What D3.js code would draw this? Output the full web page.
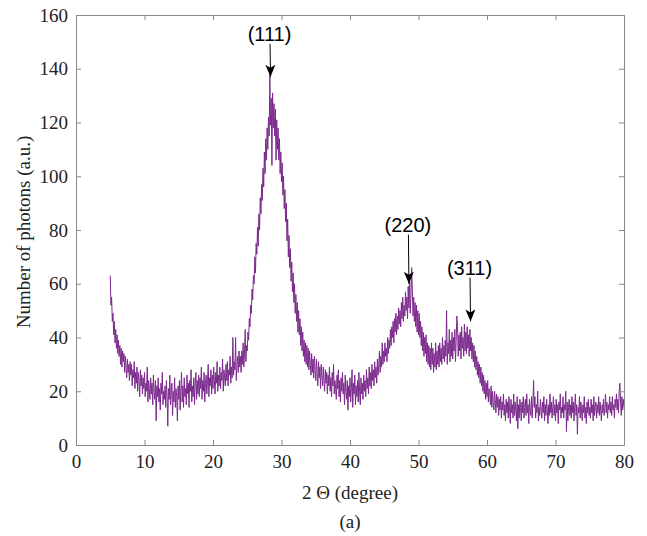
<!DOCTYPE html>
<html>
<head>
<meta charset="utf-8">
<script src="https://cdn.jsdelivr.net/npm/d3@7"></script>
<style>
  body { margin: 0; background: #fff; }
  svg { display: block; }
</style>
</head>
<body>
<div id="chart"></div>
<script>
// XRD pattern at a 0.1 degree step starting at 5 degrees
var xStart = 5,
    xStep = 0.1;

// one row per degree (5.0 ... 5.9, 6.0 ... 6.9, ...)
var photons = [
  63, 52, 55, 46, 49, 41, 46, 38, 43, 36,
  41, 34, 39, 33, 37, 30, 36, 29, 35, 31,
  34, 27, 33, 29, 25, 32, 27, 30, 24, 31,
  26, 30, 22, 28, 25, 31, 21, 27, 23, 29,
  20, 27, 24, 18, 28, 22, 26, 19, 25, 21,   // 9
  27, 18, 23, 20, 29, 16, 24, 21, 17, 25,   // 10
  19, 23, 15, 26, 20, 17, 24, 9, 22, 18,
  25, 16, 21, 13, 23, 19, 27, 15, 20, 17,
  22, 14, 24, 18, 7, 21, 17, 26, 15, 19,
  23, 11, 20, 16, 25, 14, 21, 18, 9, 22,
  17, 24, 13, 20, 27, 16, 22, 14, 25, 18,   // 15
  21, 15, 26, 19, 23, 14, 24, 20, 28, 16,
  22, 18, 25, 15, 23, 27, 17, 24, 19, 26,
  18, 25, 21, 29, 17, 24, 20, 27, 16, 23,
  26, 19, 24, 30, 18, 25, 22, 28, 19, 26,
  21, 29, 24, 19, 27, 23, 31, 20, 26, 22,   // 20
  29, 21, 27, 24, 32, 20, 28, 25, 22, 30,
  24, 31, 22, 28, 26, 33, 23, 29, 25, 40,
  26, 31, 28, 40, 24, 30, 33, 27, 35, 29,
  33, 27, 35, 30, 38, 29, 34, 43, 31, 37,
  35, 42, 39, 47, 44, 52, 49, 58, 54, 63,   // 25
  60, 70, 64, 75, 71, 81, 74, 86, 80, 92,
  86, 97, 91, 103, 96, 109, 101, 114, 106, 118,
  110, 122, 115, 138, 119, 129, 104, 131, 118, 127,
  115, 125, 106, 121, 110, 118, 106, 114, 101, 109,
  98, 105, 93, 100, 88, 95, 83, 90, 76, 84, // 30
  70, 78, 66, 73, 61, 68, 57, 64, 53, 60,
  49, 56, 46, 53, 42, 50, 41, 47, 37, 44,
  35, 42, 33, 39, 31, 38, 30, 37, 29, 36,
  28, 35, 30, 26, 34, 27, 32, 25, 33, 28,
  24, 32, 27, 22, 31, 25, 29, 21, 30, 26,   // 35
  22, 29, 24, 20, 28, 23, 27, 19, 26, 22,
  29, 20, 25, 18, 27, 22, 30, 19, 24, 21,
  17, 26, 21, 28, 18, 24, 16, 25, 20, 27,
  19, 23, 15, 26, 20, 17, 24, 13, 22, 18,
  25, 16, 21, 28, 14, 23, 19, 26, 15, 22,   // 40
  18, 24, 16, 27, 20, 15, 25, 19, 23, 17,
  26, 20, 24, 18, 28, 21, 25, 19, 29, 22,
  27, 21, 30, 24, 28, 22, 31, 25, 29, 23,
  32, 26, 30, 35, 27, 33, 29, 38, 30, 35,
  31, 38, 33, 36, 31, 40, 34, 39, 36, 43,   // 45
  37, 44, 40, 46, 38, 47, 42, 49, 41, 48,
  43, 51, 45, 50, 44, 53, 47, 55, 46, 52,
  48, 57, 50, 55, 47, 59, 51, 63, 49, 56,
  66, 58, 48, 55, 46, 53, 44, 52, 42, 50,
  41, 49, 40, 46, 37, 44, 35, 42, 33, 40,   // 50
  34, 41, 31, 38, 30, 37, 29, 36, 28, 38,
  30, 36, 27, 34, 29, 38, 28, 35, 30, 37,
  29, 38, 31, 36, 30, 40, 32, 37, 31, 39,
  33, 50, 30, 38, 34, 43, 31, 39, 33, 42,
  32, 40, 35, 43, 31, 39, 48, 44, 33, 41,   // 55
  35, 42, 32, 44, 36, 40, 33, 45, 35, 42,
  34, 44, 36, 41, 33, 43, 35, 40, 32, 38,
  31, 37, 29, 35, 28, 33, 26, 31, 25, 30,
  23, 29, 22, 27, 20, 26, 19, 24, 17, 23,
  18, 24, 16, 21, 19, 15, 22, 14, 20, 16,   // 60
  13, 20, 17, 12, 19, 14, 18, 11, 17, 13,
  18, 10, 16, 13, 19, 11, 15, 9, 17, 12,
  16, 10, 18, 13, 8, 17, 12, 15, 10, 19,
  11, 16, 13, 9, 18, 6, 15, 10, 17, 14,
  9, 16, 12, 18, 10, 14, 17, 11, 19, 12,    // 65
  15, 8, 17, 13, 11, 18, 10, 16, 24, 14,
  18, 10, 15, 12, 20, 9, 14, 11, 17, 13,
  10, 16, 12, 18, 9, 15, 11, 17, 13, 8,
  15, 11, 19, 12, 16, 10, 14, 18, 11, 15,
  9, 17, 12, 15, 8, 16, 13, 19, 10, 14,     // 70
  12, 18, 10, 15, 13, 20, 5, 16, 9, 14,
  17, 11, 15, 10, 18, 12, 16, 9, 14, 19,
  11, 15, 4, 14, 12, 18, 10, 16, 13, 9,
  15, 12, 18, 10, 14, 8, 16, 12, 17, 11,
  14, 10, 17, 12, 15, 9, 18, 11, 14, 16,    // 75
  10, 15, 12, 18, 11, 16, 13, 9, 15, 12,
  17, 11, 14, 19, 12, 16, 10, 15, 13, 18,
  12, 16, 11, 18, 13, 15, 10, 17, 14, 19,
  13, 17, 12, 20, 23, 16, 11, 18, 13, 17,
  14                                        // 80
];

var xTicks = [0, 10, 20, 30, 40, 50, 60, 70, 80];
var yTicks = [0, 20, 40, 60, 80, 100, 120, 140, 160];

var peakLabels = ['(111)', '(220)', '(311)'];
var peakAngles = [28.4, 48.6, 57.6];
var peakTips = [137, 60, 46];
var peakLabelValues = [153, 82, 66];

var width = 647,
    height = 536,
    margin = {top: 15, right: 23, bottom: 91, left: 76};

var svg = d3.select('#chart')
    .append('svg')
    .attr('width', width)
    .attr('height', height);

var x = d3.scaleLinear()
    .domain([0, 80])
    .range([margin.left, width - margin.right]);

var y = d3.scaleLinear()
    .domain([0, 160])
    .range([height - margin.bottom, margin.top]);

var points = photons.map(function (v, i) {
    return [xStart + i * xStep, v];
});

// the spectrum
var line = d3.line()
    .x(function (d) { return x(d[0]); })
    .y(function (d) { return y(d[1]); });

svg.append('path')
    .datum(points)
    .attr('fill', 'none')
    .attr('stroke', '#7b2a8c')
    .attr('stroke-width', 1)
    .attr('d', line);

// axes with ticks pointing inward, box on
var axisColor = '#8a8a8a';
var serif = '"Liberation Serif", "Times New Roman", serif';

var gx = svg.append('g')
    .attr('transform', 'translate(0,' + (height - margin.bottom) + ')')
    .call(d3.axisBottom(x).tickValues(xTicks).tickSizeInner(-5).tickSizeOuter(0).tickPadding(10));

var gy = svg.append('g')
    .attr('transform', 'translate(' + margin.left + ',0)')
    .call(d3.axisLeft(y).tickValues(yTicks).tickSizeInner(-5).tickSizeOuter(0).tickPadding(8));

var gt = svg.append('g')
    .attr('transform', 'translate(0,' + margin.top + ')')
    .call(d3.axisTop(x).tickValues(xTicks).tickSizeInner(-5).tickSizeOuter(0).tickFormat(''));

var gr = svg.append('g')
    .attr('transform', 'translate(' + (width - margin.right) + ',0)')
    .call(d3.axisRight(y).tickValues(yTicks).tickSizeInner(-5).tickSizeOuter(0).tickFormat(''));

[gx, gy, gt, gr].forEach(function (g) {
    g.selectAll('path, line').attr('stroke', axisColor);
    g.selectAll('text')
        .attr('fill', '#222')
        .style('font-family', serif)
        .style('font-size', '19px');
});

// axis titles
svg.append('text')
    .attr('x', (x(0) + x(80)) / 2)
    .attr('y', 499)
    .attr('text-anchor', 'middle')
    .attr('fill', '#222')
    .style('font-family', serif)
    .style('font-size', '19px')
    .text('2 \u0398 (degree)');

svg.append('text')
    .attr('x', (x(0) + x(80)) / 2)
    .attr('y', 528)
    .attr('text-anchor', 'middle')
    .attr('fill', '#222')
    .style('font-family', serif)
    .style('font-size', '19px')
    .text('(a)');

svg.append('text')
    .attr('transform', 'translate(30,' + 232 + ') rotate(-90)')
    .attr('text-anchor', 'middle')
    .attr('fill', '#222')
    .style('font-family', serif)
    .style('font-size', '19px')
    .text('Number of photons (a.u.)');

// peak annotations
svg.append('defs').append('marker')
    .attr('id', 'head')
    .attr('viewBox', '0 0 12 10')
    .attr('refX', 12)
    .attr('refY', 5)
    .attr('markerWidth', 12)
    .attr('markerHeight', 10)
    .attr('markerUnits', 'userSpaceOnUse')
    .attr('orient', 'auto')
    .append('path')
    .attr('d', 'M0,0 L12,5 L0,10 L3,5 Z')
    .attr('fill', '#000');

var notes = svg.selectAll('g.note')
    .data(peakLabels)
    .enter().append('g')
    .attr('class', 'note');

notes.append('line')
    .attr('x1', function (d, i) { return x(peakAngles[i]) - 0.5; })
    .attr('y1', function (d, i) { return y(peakLabelValues[i]) + 10; })
    .attr('x2', function (d, i) { return x(peakAngles[i]); })
    .attr('y2', function (d, i) { return y(peakTips[i]); })
    .attr('stroke', '#000')
    .attr('stroke-width', 1)
    .attr('marker-end', 'url(#head)');

notes.append('text')
    .attr('x', function (d, i) { return x(peakAngles[i]) - 1; })
    .attr('y', function (d, i) { return y(peakLabelValues[i]) + 7; })
    .attr('text-anchor', 'middle')
    .attr('fill', '#000')
    .style('font-family', '"Liberation Sans", Arial, sans-serif')
    .style('font-size', '20px')
    .text(function (d) { return d; });
</script>
</body>
</html>
